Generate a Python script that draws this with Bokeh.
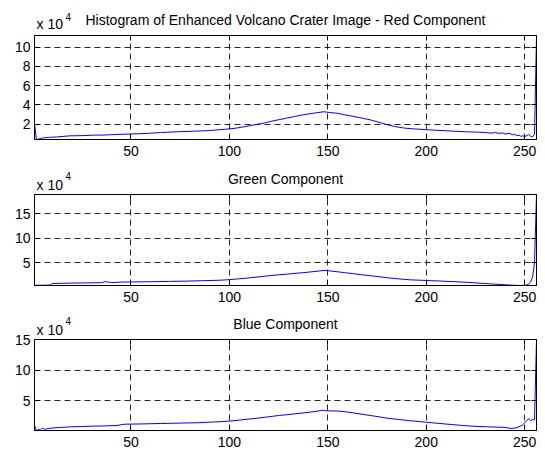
from bokeh.plotting import figure
from bokeh.models import Range1d, FixedTicker, LinearAxis, Label
from bokeh.layouts import column
from bokeh.embed import file_html
from bokeh.resources import INLINE

FONT = "Liberation Sans"

# Intensity levels (x axis) and tick labels
x_ticks = [50, 100, 150, 200, 250]

# Red component histogram (counts in units of 10^4)
red_x = [1, 2, 3, 5, 8, 12, 19, 25, 31, 36, 40, 45, 50, 57, 65, 73, 82, 90,
         100, 104, 108, 112, 117, 121, 125, 129, 133, 137, 141, 145, 148, 151,
         155, 159, 163, 167, 172, 176, 180, 184, 189, 194, 200, 205, 211, 215,
         220, 225, 230, 233, 235, 237, 239, 240, 242, 244, 245, 246, 247, 248,
         249, 250, 251, 252, 253, 254, 255, 256]
red_v = [2.0, 0.4, 0.45, 0.55, 0.62, 0.66, 0.78, 0.8, 0.85, 0.86, 0.9, 0.94,
         0.97, 1.02, 1.12, 1.2, 1.26, 1.33, 1.5, 1.6, 1.74, 1.9, 2.08, 2.28,
         2.45, 2.62, 2.78, 2.95, 3.08, 3.2, 3.28, 3.2, 3.12, 2.95, 2.8, 2.64,
         2.42, 2.18, 1.95, 1.75, 1.58, 1.5, 1.42, 1.36, 1.3, 1.25, 1.2, 1.17,
         1.13, 1.06, 1.12, 1.04, 1.08, 0.96, 1.05, 0.88, 0.95, 0.8, 0.85, 0.74,
         0.78, 0.72, 0.8, 0.92, 0.75, 0.68, 0.95, 11.2]
red_yticks = [2, 4, 6, 8, 10]

# Green component histogram (counts in units of 10^4)
green_x = [1, 5, 9, 10, 15, 20, 25, 30, 35, 37, 39, 41, 45, 50, 60, 69, 78, 86,
           95, 100, 104, 108, 112, 116, 120, 125, 129, 133, 137, 141, 145, 148,
           151, 155, 159, 163, 167, 172, 176, 180, 186, 192, 197, 202, 209, 216,
           222, 229, 234, 240, 244, 248, 250, 251, 252, 253, 254, 255, 256]
green_v = [0.35, 0.35, 0.4, 0.7, 0.75, 0.8, 0.82, 0.85, 0.88, 1.1, 0.95, 0.9,
           1.0, 1.02, 1.08, 1.14, 1.2, 1.28, 1.38, 1.5, 1.65, 1.78, 1.95, 2.12,
           2.3, 2.5, 2.62, 2.78, 2.92, 3.08, 3.25, 3.4, 3.3, 3.12, 2.92, 2.72,
           2.52, 2.3, 2.1, 1.9, 1.66, 1.46, 1.38, 1.3, 1.18, 1.05, 0.92, 0.72,
           0.6, 0.45, 0.35, 0.3, 0.32, 0.4, 0.6, 1.0, 2.0, 5.0, 19.0]
green_yticks = [5, 10, 15]

# Blue component histogram (counts in units of 10^4)
blue_x = [1, 2, 3, 4, 5, 6, 8, 10, 14, 20, 25, 31, 37, 43, 45, 47, 55, 65, 75,
          85, 89, 95, 100, 106, 113, 119, 125, 129, 133, 137, 141, 145, 147,
          150, 155, 159, 163, 167, 172, 176, 180, 186, 192, 200, 206, 213, 218,
          223, 227, 231, 236, 240, 243, 245, 247, 248, 249, 250, 251, 252, 253,
          254, 255, 256]
blue_v = [1.0, 0.15, 0.3, 0.25, 0.55, 0.35, 0.45, 0.55, 0.65, 0.75, 0.8, 0.86,
          0.9, 0.97, 1.1, 1.18, 1.22, 1.29, 1.36, 1.42, 1.5, 1.58, 1.68, 1.88,
          2.12, 2.35, 2.6, 2.72, 2.86, 3.0, 3.15, 3.32, 3.45, 3.36, 3.33, 3.2,
          3.02, 2.82, 2.58, 2.38, 2.16, 1.95, 1.74, 1.5, 1.32, 1.12, 0.98, 0.86,
          0.8, 0.75, 0.7, 0.65, 0.48, 0.55, 0.75, 0.9, 1.1, 1.4, 1.75, 2.1, 1.8,
          1.9, 1.95, 15.0]
blue_yticks = [5, 10, 15]

titles = ["Histogram of Enhanced Volcano Crater Image - Red Component",
          "Green Component", "Blue Component"]
exponent_base = "x 10"
exponent_power = "4"

LEFT = 34
RIGHT = 9
WIDTH = 545
FS = "14px"


def style_axis(ax, ticks, show_labels, standoff):
    ax.ticker = FixedTicker(ticks=ticks)
    ax.major_tick_in = 5
    ax.major_tick_out = 0
    ax.minor_tick_in = 0
    ax.minor_tick_out = 0
    ax.axis_line_color = "black"
    ax.major_tick_line_color = "black"
    ax.major_label_text_font = FONT
    ax.major_label_text_color = "black"
    if show_labels:
        ax.major_label_text_font_size = FS
        ax.major_label_standoff = standoff
    else:
        ax.major_label_text_font_size = "0px"
        ax.major_label_standoff = 0
        ax.major_label_overrides = {t: "" for t in ticks}


def make_header(height, title, title_y, exp_y, pow_y):
    h = figure(width=WIDTH, height=height, output_backend="svg",
               toolbar_location=None, x_axis_type=None, y_axis_type=None,
               x_range=Range1d(0, WIDTH), y_range=Range1d(0, height),
               min_border=0, min_border_left=0, min_border_right=0,
               min_border_top=0, min_border_bottom=0)
    h.outline_line_color = None
    h.xgrid.visible = False
    h.ygrid.visible = False
    h.background_fill_color = "white"
    h.border_fill_color = "white"
    frame_w = WIDTH - LEFT - RIGHT
    h.add_layout(Label(x=frame_w / 2, y=title_y, x_units="screen",
                       y_units="screen", text=title, text_align="center",
                       text_baseline="middle", text_font=FONT,
                       text_font_size=FS, text_color="black"))
    h.add_layout(Label(x=2, y=exp_y, x_units="screen",
                       y_units="screen", text=exponent_base, text_align="left",
                       text_baseline="middle", text_font=FONT,
                       text_font_size=FS, text_color="black"))
    h.add_layout(Label(x=31, y=pow_y, x_units="screen",
                       y_units="screen", text=exponent_power,
                       text_align="left", text_baseline="middle",
                       text_font=FONT, text_font_size="10px",
                       text_color="black"))
    return h


def make_panel(xs, ys, yticks, top, frame_h, bottom, overlap=0):
    ylo, yhi = min(ys), max(ys)
    p = figure(width=WIDTH, height=top + frame_h + bottom, output_backend="svg",
               toolbar_location=None,
               x_range=Range1d(1, 256), y_range=Range1d(ylo, yhi),
               min_border_left=LEFT, min_border_right=RIGHT,
               min_border_top=top, min_border_bottom=bottom)
    if overlap:
        p.margin = (-overlap, 0, 0, 0)
        p.border_fill_alpha = 0
    else:
        p.border_fill_color = "white"
    p.line(xs, ys, line_color="#0000ff", line_width=1)
    p.outline_line_color = "black"
    p.outline_line_alpha = 1
    p.background_fill_color = "white"

    style_axis(p.xaxis[0], x_ticks, True, 6)
    style_axis(p.yaxis[0], yticks, True, 4)
    ax_top = LinearAxis()
    style_axis(ax_top, x_ticks, False, 0)
    p.add_layout(ax_top, "above")
    ax_right = LinearAxis()
    style_axis(ax_right, yticks, False, 0)
    p.add_layout(ax_right, "right")

    for g in (p.xgrid[0], p.ygrid[0]):
        g.grid_line_color = "black"
        g.grid_line_alpha = 0.85
        g.grid_line_dash = "6 4"
        g.grid_line_width = 1
    p.xgrid[0].ticker = FixedTicker(ticks=x_ticks)
    p.ygrid[0].ticker = FixedTicker(ticks=yticks)
    return p


# canvas layout: box tops at 35, 194, 339
h1 = make_header(34, titles[0], 15, 11, 18)
p1 = make_panel(red_x, red_v, red_yticks, 1, 104, 27)
h2 = make_header(27, titles[1], 15, 9, 18)
p2 = make_panel(green_x, green_v, green_yticks, 1, 91, 27)
h3 = make_header(26, titles[2], 15, 9, 18)
p3 = make_panel(blue_x, blue_v, blue_yticks, 9, 91, 20, overlap=8)

layout = column(h1, p1, h2, p2, h3, p3, spacing=0)

open("out.html", "w").write(file_html(layout, INLINE))
